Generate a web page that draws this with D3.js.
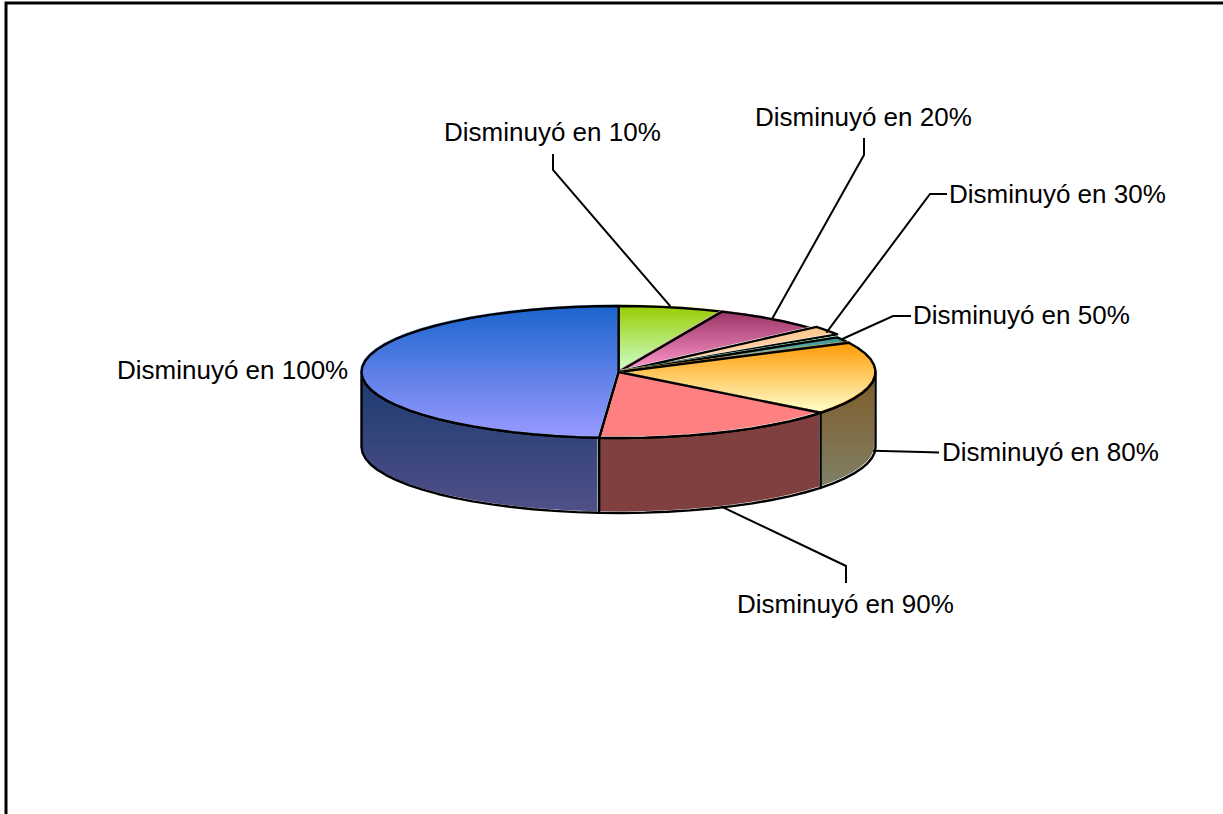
<!DOCTYPE html>
<html lang="es">
<head>
    <meta charset="UTF-8">
    <title>Disminuyó</title>
    <script src="https://d3js.org/d3.v7.min.js"></script>
    <style>
        html, body { margin: 0; background: #fff; }
        svg { display: block; }
        text { font-family: "Liberation Sans", Arial, sans-serif; font-size: 26px; fill: #000; }
    </style>
</head>
<body>
    <svg id="chart" width="1223" height="814"></svg>
    <script>
        // values, as percent of the pie
        const categories = ["Disminuyó en 10%", "Disminuyó en 20%", "Disminuyó en 30%", "Disminuyó en 50%",
                            "Disminuyó en 80%", "Disminuyó en 90%", "Disminuyó en 100%"];
        const shares = [6.6, 7.4, 2.2, 1.5, 17.9, 15.6, 48.8];

        // top face gradient, side gradient and thin highlight edge for each slice
        const topColors = [["#99cc00", "#ccffcc"], ["#993366", "#ff99cc"], ["#ffc48a", "#ffe2c4"], ["#2f8f8f", "#c4d4d4"],
                           ["#ff9900", "#ffffcc"], ["#ff8080", "#ff8080"], ["#1a64cc", "#9999ff"]];
        const sideColors = [null, null, null, null, ["#7f5a26", "#808066"], ["#804040", "#804040"], ["#1a3a6e", "#505088"]];
        const edgeColors = ["#d8ef90", "#e79ac4", "#fff", "#9fd", "#ffb040", "#fff", "#8db8f0"];

        // label placement: text start, baseline, leader elbows, rim lift of the slice
        const labelLayout = [
            { x: 444, y: 141, elbows: [[553, 154], [553, 170]], drop: 0, lift: 0 },
            { x: 755, y: 126, elbows: [[864, 138], [864, 155]], drop: 0, lift: 0 },
            { x: 949, y: 203, elbows: [[947, 194], [930, 194]], drop: 0, lift: 3 },
            { x: 913, y: 324, elbows: [[911, 316], [893, 316]], drop: 0, lift: 0 },
            { x: 942, y: 461, elbows: [[939, 452.5], [922, 452]], drop: 73, lift: 0 },
            { x: 737, y: 613, elbows: [[846, 583], [846, 566]], drop: 75, lift: 0 },
            { x: 117, y: 379, elbows: null, drop: 0, lift: 0 }
        ];

        const cx = 617.5, cy = 371, rx = 257, ry = 66, depth = 75;
        const svg = d3.select("#chart");
        const defs = svg.append("defs");

        function addGradient(id, colors) {
            const g = defs.append("linearGradient").attr("id", id)
                .attr("x1", 0).attr("y1", 0).attr("x2", 0).attr("y2", 1);
            g.append("stop").attr("offset", "0%").attr("stop-color", colors[0]);
            g.append("stop").attr("offset", "100%").attr("stop-color", colors[1]);
        }

        // outer frame, only top and left are inside the picture
        svg.append("path")
            .attr("d", "M6,814V3H1223")
            .attr("fill", "none")
            .attr("stroke", "#000")
            .attr("stroke-width", 3);

        const pie = d3.pie().sort(null).value(d => d).startAngle(0).endAngle(2 * Math.PI);
        const slices = pie(shares);

        const rimX = a => cx + rx * Math.sin(a);
        const rimY = a => cy - ry * Math.cos(a);
        const line = d3.line();

        // sample the rim coarsely, the original edge is a bit polygonal too
        function rim(a0, a1) {
            const n = Math.max(1, Math.round((a1 - a0) / (5 * Math.PI / 180)));
            return d3.range(n + 1).map(i => {
                const a = a0 + (a1 - a0) * i / n;
                return [rimX(a), rimY(a)];
            });
        }

        function drawShape(points, fill, edge) {
            const d = line(points) + "Z";
            svg.append("path").attr("d", d).attr("fill", fill)
                .attr("stroke", edge).attr("stroke-width", 1);
            svg.append("path").attr("d", d).attr("fill", "none")
                .attr("stroke", "#000").attr("stroke-width", 2.4)
                .attr("stroke-linejoin", "round")
                .attr("transform", "translate(1,1)");
        }

        // front walls first
        [6, 5, 4].forEach(i => {
            const s = slices[i];
            const a0 = Math.max(s.startAngle, Math.PI / 2);
            const a1 = Math.min(s.endAngle, 3 * Math.PI / 2);
            const top = rim(a0, a1);
            const bottom = top.map(p => [p[0], p[1] + depth]).reverse();
            addGradient("side" + i, sideColors[i]);
            drawShape(top.concat(bottom), "url(#side" + i + ")", "#fff");
        });

        // top faces
        slices.forEach((s, i) => {
            addGradient("top" + i, topColors[i]);
            const lift = labelLayout[i].lift;
            const edge = rim(s.startAngle, s.endAngle).map(p => [p[0], p[1] - lift]);
            drawShape([[cx, cy]].concat(edge), "url(#top" + i + ")", edgeColors[i]);
        });

        // leaders and labels
        slices.forEach((s, i) => {
            const l = labelLayout[i];
            if (l.elbows) {
                const mid = (s.startAngle + s.endAngle) / 2;
                const pts = l.elbows.concat([[rimX(mid), rimY(mid) + l.drop]]);
                svg.append("path").attr("d", line(pts)).attr("fill", "none")
                    .attr("stroke", "#000").attr("stroke-width", 2);
            }
            svg.append("text").attr("x", l.x).attr("y", l.y).text(categories[i]);
        });
    </script>
</body>
</html>
